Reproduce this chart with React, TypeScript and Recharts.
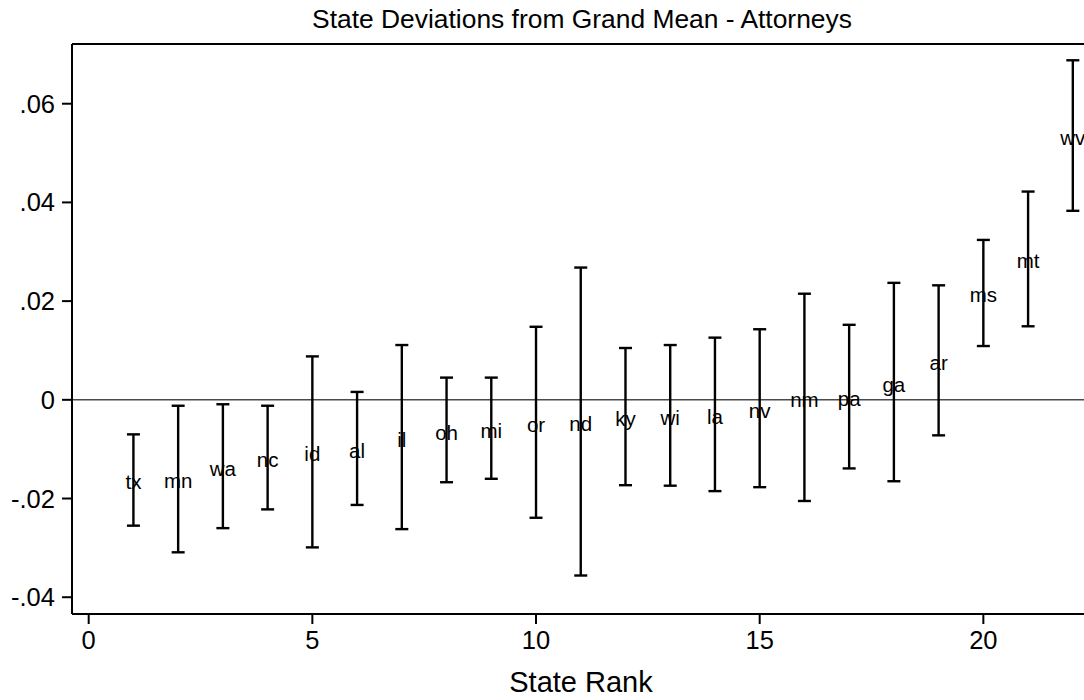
import React from 'react';
import { ScatterChart, Scatter, XAxis, YAxis, ErrorBar, ReferenceLine } from 'recharts';

// state codes in rank order
const STATES = ['tx', 'mn', 'wa', 'nc', 'id', 'al', 'il', 'oh', 'mi', 'or', 'nd',
  'ky', 'wi', 'la', 'nv', 'nm', 'pa', 'ga', 'ar', 'ms', 'mt', 'wv'];
const RANKS = [1, 2, 3, 4, 5, 6, 7, 8, 9, 10, 11, 12, 13, 14, 15, 16, 17, 18, 19, 20, 21, 22];
const ESTIMATES = [-0.0162, -0.0160, -0.0134, -0.0117, -0.0105, -0.0099, -0.0076, -0.0061, -0.0057, -0.0045, -0.0044,
  -0.0034, -0.0031, -0.0030, -0.0017, 0.0005, 0.0007, 0.0036, 0.0080, 0.0217, 0.0286, 0.0535];
const LOWER = [-0.0255, -0.0309, -0.0260, -0.0222, -0.0299, -0.0213, -0.0262, -0.0167, -0.0160, -0.0239, -0.0356,
  -0.0173, -0.0174, -0.0185, -0.0177, -0.0205, -0.0139, -0.0165, -0.0072, 0.0109, 0.0149, 0.0383];
const UPPER = [-0.0070, -0.0012, -0.0009, -0.0012, 0.0088, 0.0016, 0.0111, 0.0045, 0.0045, 0.0148, 0.0268,
  0.0105, 0.0111, 0.0126, 0.0143, 0.0215, 0.0152, 0.0237, 0.0232, 0.0324, 0.0422, 0.0688];

const X_TICKS = [0, 5, 10, 15, 20];
const Y_TICKS = [-0.04, -0.02, 0, 0.02, 0.04, 0.06];
const Y_TICK_LABELS = ['-.04', '-.02', '0', '.02', '.04', '.06'];

const X_DOMAIN = [-0.373, 22.25];
const Y_DOMAIN = [-0.0434, 0.0721];

const FONT = '"Liberation Sans", Arial, Helvetica, sans-serif';

const data = STATES.map((s, i) => ({
  state: s,
  rank: RANKS[i],
  est: ESTIMATES[i],
  err: [ESTIMATES[i] - LOWER[i], UPPER[i] - ESTIMATES[i]],
}));

const StateLabel = (props: any) => {
  const { cx, cy, payload } = props;
  return (
    <text x={cx} y={cy} dy="0.47em" textAnchor="middle" fill="#000" fontSize={20.5} fontFamily={FONT}>
      {payload.state}
    </text>
  );
};

export default function App() {
  return (
    <div style={{ position: 'absolute', left: 0, top: 0, width: 1084, height: 700, background: '#fff', overflow: 'hidden' }}>
      <div style={{ position: 'absolute', left: 582, top: 6, transform: 'translateX(-50%)', whiteSpace: 'nowrap',
        fontFamily: FONT, fontSize: 26.4, lineHeight: '26.4px', color: '#000' }}>
        State Deviations from Grand Mean - Attorneys
      </div>
      <ScatterChart width={1084} height={700} margin={{ top: 44, right: 0, bottom: 0, left: 0 }}>
        <XAxis
          type="number"
          dataKey="rank"
          domain={X_DOMAIN}
          ticks={X_TICKS}
          allowDataOverflow
          height={86}
          tickSize={10}
          tickMargin={7}
          axisLine={{ stroke: '#000', strokeWidth: 2 }}
          tickLine={{ stroke: '#000', strokeWidth: 2 }}
          tick={{ fill: '#000', fontSize: 25.5, fontFamily: FONT }}
        />
        <YAxis
          type="number"
          dataKey="est"
          domain={Y_DOMAIN}
          ticks={Y_TICKS}
          allowDataOverflow
          width={72}
          tickSize={10}
          tickMargin={7}
          tickFormatter={(v: number) => Y_TICK_LABELS[Y_TICKS.findIndex((t) => Math.abs(t - v) < 1e-9)] ?? String(v)}
          axisLine={{ stroke: '#000', strokeWidth: 2 }}
          tickLine={{ stroke: '#000', strokeWidth: 2 }}
          tick={{ fill: '#000', fontSize: 25.5, fontFamily: FONT }}
        />
        <ReferenceLine y={Y_DOMAIN[1]} stroke="#000" strokeWidth={2} ifOverflow="visible" />
        <ReferenceLine y={0} stroke="#4a4a4a" strokeWidth={1.5} />
        <Scatter data={data} shape={StateLabel} isAnimationActive={false}>
          <ErrorBar dataKey="err" direction="y" width={6.5} stroke="#000" strokeWidth={2.4} isAnimationActive={false} />
        </Scatter>
      </ScatterChart>
      <div style={{ position: 'absolute', left: 581, top: 668, transform: 'translateX(-50%)', whiteSpace: 'nowrap',
        fontFamily: FONT, fontSize: 29, lineHeight: '29px', color: '#000' }}>
        State Rank
      </div>
    </div>
  );
}
